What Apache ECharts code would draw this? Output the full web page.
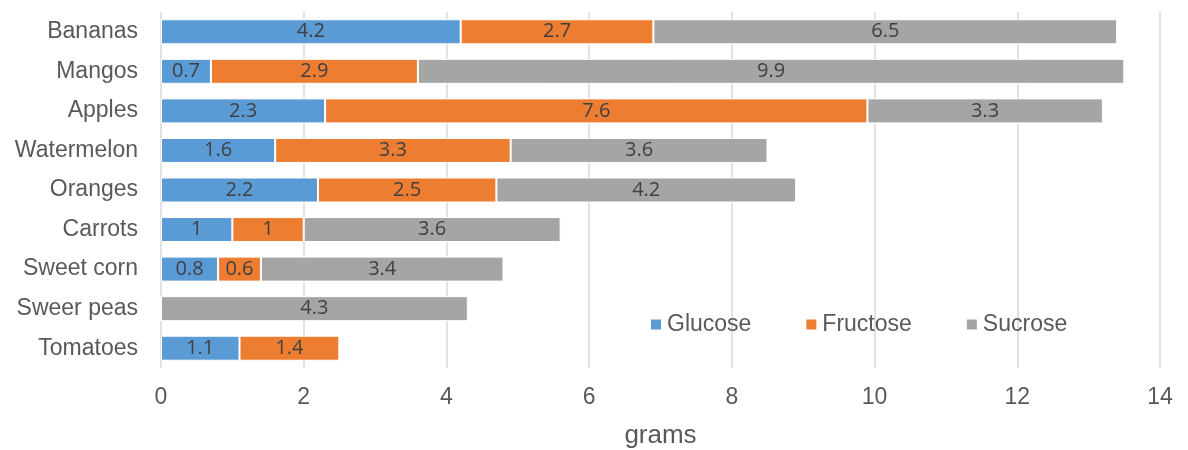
<!DOCTYPE html>
<html>
<head>
<meta charset="utf-8">
<script src="https://cdn.jsdelivr.net/npm/echarts@6/dist/echarts.min.js"></script>
<style>
  html, body { margin: 0; padding: 0; background: #ffffff; }
  #chart { width: 1188px; height: 450px; }
</style>
</head>
<body>
<div id="chart"></div>
<script>
// Sugar content per food, in grams
const categories = ['Bananas', 'Mangos', 'Apples', 'Watermelon', 'Oranges', 'Carrots', 'Sweet corn', 'Sweer peas', 'Tomatoes'];
const glucose  = [4.2, 0.7, 2.3, 1.6, 2.2, 1, 0.8, 0, 1.1];
const fructose = [2.7, 2.9, 7.6, 3.3, 2.5, 1, 0.6, 0, 1.4];
const sucrose  = [6.5, 9.9, 3.3, 3.6, 4.2, 3.6, 3.4, 4.3, 0];
const xTicks = { min: 0, max: 14, step: 2 };

const seriesDefs = [
  { name: 'Glucose', data: glucose, color: '#5b9bd5' },
  { name: 'Fructose', data: fructose, color: '#ed7d31' },
  { name: 'Sucrose', data: sucrose, color: '#a5a5a5' }
];

const chart = echarts.init(document.getElementById('chart'), null, { renderer: 'canvas' });

chart.setOption({
  animation: false,
  backgroundColor: '#ffffff',
  grid: { left: 161, right: 28, top: 12, bottom: 82, containLabel: false, outerBoundsMode: 'none' },
  legend: {
    left: 649, top: 313, padding: 0,
    itemWidth: 12, itemHeight: 12, itemGap: 53,
    icon: 'rect',
    textStyle: { fontFamily: 'Liberation Sans', fontSize: 23, color: '#595959' },
    data: seriesDefs.map(s => s.name)
  },
  xAxis: {
    type: 'value',
    min: xTicks.min, max: xTicks.max, interval: xTicks.step,
    name: 'grams', nameLocation: 'middle', nameGap: 55,
    nameTextStyle: { fontFamily: 'Liberation Sans', fontSize: 26, color: '#595959' },
    axisLine: { show: false },
    axisTick: { show: false },
    axisLabel: { fontFamily: 'Liberation Sans', fontSize: 23, color: '#595959', margin: 18 },
    splitLine: { show: true, lineStyle: { color: '#d9d9d9', width: 1.5 } }
  },
  yAxis: {
    type: 'category',
    data: categories,
    inverse: true,
    axisLine: { show: false },
    axisTick: { show: false },
    axisLabel: { fontFamily: 'Liberation Sans', fontSize: 23, color: '#595959', margin: 23 }
  },
  series: seriesDefs.map(s => ({
    name: s.name,
    type: 'bar',
    stack: 'sugar',
    barWidth: 25,
    data: s.data,
    itemStyle: { color: s.color, borderColor: '#ffffff', borderWidth: 1 },
    label: {
      show: true,
      position: 'inside',
      fontFamily: 'Open Sans',
      fontSize: 20,
      color: '#404040',
      formatter: p => (p.value ? String(p.value) : '')
    }
  }))
});
</script>
</body>
</html>
